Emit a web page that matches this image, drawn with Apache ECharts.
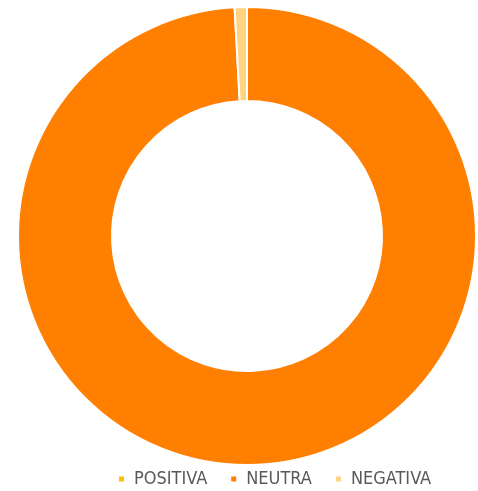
<!DOCTYPE html>
<html>
<head>
<meta charset="utf-8">
<script src="https://cdn.jsdelivr.net/npm/echarts@6/dist/echarts.min.js"></script>
<style>
  html, body { margin: 0; padding: 0; background: #fff; }
  #chart { width: 478px; height: 491px; }
</style>
</head>
<body>
<div id="chart"></div>
<script>
var categories = ['POSITIVA', 'NEUTRA', 'NEGATIVA'];
var values = [0, 115, 1];
var colors = ['#FFC000', '#FF8000', '#FFD37F'];

var myChart = echarts.init(document.getElementById('chart'), null, {renderer: 'canvas'});

var pieData = categories.map(function (name, i) {
    return {name: name, value: values[i], itemStyle: {color: colors[i]}};
});

option = {
    animation: false,
    legend: {
        top: 470,
        left: 117,
        padding: 0,
        icon: 'rect',
        itemWidth: 7,
        itemHeight: 7,
        itemGap: 22,
        textStyle: {
            color: '#595959',
            fontSize: 18,
            padding: [0, 0, 0, 4],
            fontFamily: 'DejaVu Sans Condensed, Liberation Sans Narrow, sans-serif'
        },
        data: categories
    },
    series: [{
        type: 'pie',
        center: [247, 236],
        radius: [135, 229],
        startAngle: 90,
        clockwise: true,
        label: {show: false},
        labelLine: {show: false},
        itemStyle: {borderColor: '#fff', borderWidth: 2},
        data: pieData
    }]
};

myChart.setOption(option);
</script>
</body>
</html>
